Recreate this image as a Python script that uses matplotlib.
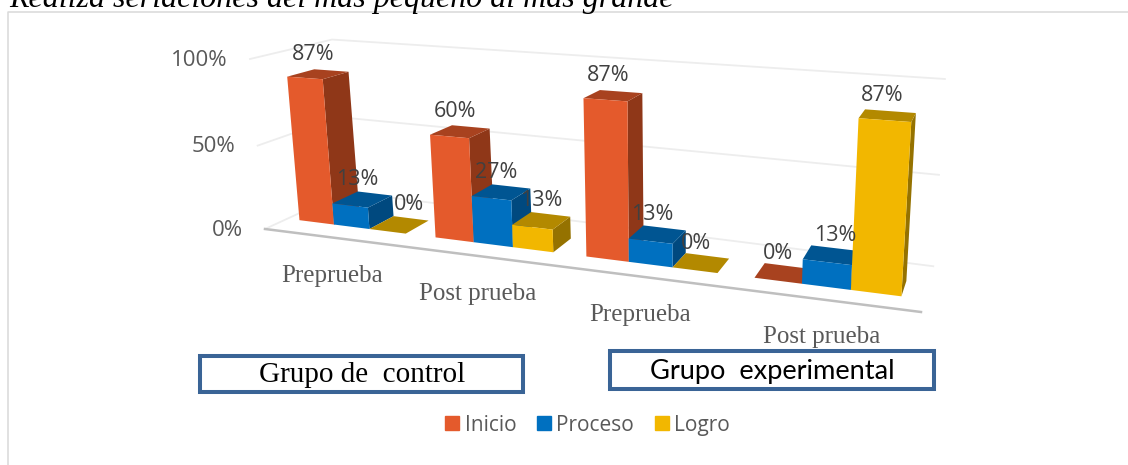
import numpy as np
import matplotlib
matplotlib.use("Agg")
import matplotlib.pyplot as plt
from matplotlib.patches import Patch, Rectangle

categories = ["Preprueba", "Post prueba", "Preprueba", "Post prueba"]
inicio = [87, 60, 87, 0]
proceso = [13, 27, 13, 13]
logro = [0, 13, 0, 87]
series_names = ["Inicio", "Proceso", "Logro"]
y_ticks = [0, 50, 100]

# front, side, top colour of each series
front_colors = ["#E45A2C", "#0070C0", "#F2B700"]
side_colors = ["#8F3718", "#00497F", "#957200"]
top_colors = ["#A8421F", "#005592", "#B38900"]

# label nudges where Excel had moved the label sideways
label_nudge = [[0, 0, 0, 0], [0, 0, 0, 9], [15, 5, 0, 0]]

W, H = 1128, 465
SERIF = "Liberation Serif"
SANS = "Open Sans"

# camera: corners of the front plane in pixels and the depth vanishing point
corners = [(265, 229), (921, 312), (250, 59), (934, 103)]
vanish = np.array([1039.0, -128.0])
BAR_FRONT, BAR_BACK, WALL = 0.029, 0.064, 0.104
GAP = 0.8
U_SHIFT = -0.003


def plane_matrix(pts):
    """homography from the unit square (u, v) to the pixel corners"""
    src = [(0, 0), (1, 0), (0, 1), (1, 1)]
    a, b = [], []
    for (u, v), (x, y) in zip(src, pts):
        a.append([u, v, 1, 0, 0, 0, -u * x, -v * x])
        a.append([0, 0, 0, u, v, 1, -u * y, -v * y])
        b += [x, y]
    return np.append(np.linalg.solve(np.array(a, float), np.array(b, float)), 1).reshape(3, 3)


M = plane_matrix(corners)


def project(u, v, d=0.0):
    p = M @ np.array([u, v, 1.0])
    p = p[:2] / p[2]
    return p + d * (vanish - p)


fig = plt.figure(figsize=(W / 100, H / 100), dpi=100)
ax = fig.add_axes([0, 0, 1, 1])
ax.set_xlim(0, W)
ax.set_ylim(H, 0)
ax.axis("off")

# outer frame of the chart
ax.plot([7.5, 7.5, W], [H, 12.5, 12.5], color="#D9D9D9", lw=1.1, zorder=1)

# the reference cuts this line at the top edge too
ax.text(9, 7, "Realiza seriaciones del más pequeño al más grande", family=SERIF,
        style="italic", fontsize=23, color="black", va="baseline", ha="left")

# gridlines on side wall and back wall
for t in y_ticks:
    v = t / 100
    a = project(0, v)
    b = project(0, v, WALL)
    c = project(1, v, WALL)
    ax.plot([a[0], b[0], c[0]], [a[1], b[1], c[1]], color="#EDEDED", lw=1.3, zorder=2)
    ax.text(a[0] - 22, a[1] + 1, f"{t}%", family=SANS, fontsize=16, color="#595959",
            ha="right", va="center")

p0, p1 = project(0, 0), project(1, 0)
ax.plot([p0[0], p1[0]], [p0[1], p1[1]], color="#BFBFBF", lw=1.8, zorder=3)

bar_w = 0.25 / (3 + GAP)
values = [inicio, proceso, logro]
zo = 4
for k in range(len(categories)):
    for s in range(3):
        v = values[s][k] / 100
        u0 = k * 0.25 + bar_w * GAP / 2 + s * bar_w + U_SHIFT
        u1 = u0 + bar_w
        fl, fr = project(u0, 0, BAR_FRONT), project(u1, 0, BAR_FRONT)
        tl, tr = project(u0, v, BAR_FRONT), project(u1, v, BAR_FRONT)
        bl, br = project(u0, v, BAR_BACK), project(u1, v, BAR_BACK)
        br0 = project(u1, 0, BAR_BACK)
        if v > 0:
            ax.fill(*zip(fr, tr, br, br0), color=side_colors[s], lw=0, zorder=zo)
            ax.fill(*zip(fl, fr, tr, tl), color=front_colors[s], lw=0, zorder=zo + 0.2)
        ax.fill(*zip(tl, tr, br, bl), color=top_colors[s], lw=0, zorder=zo + 0.1)
        zo += 1

        mid = project((u0 + u1) / 2, v, (BAR_FRONT + BAR_BACK) / 2)
        ax.text(mid[0] - 5 + label_nudge[s][k], mid[1] - 20, f"{values[s][k]}%", family=SANS,
                fontsize=15.5, color="#404040", ha="center", va="center", zorder=50)

    c = project(k * 0.25 + 0.125, 0)
    ax.text(c[0] - 1, c[1] + 38, categories[k], family=SERIF, fontsize=18, color="#595959",
            ha="center", va="center")

# group boxes
ax.add_patch(Rectangle((200, 356), 323, 36, fc="white", ec="#3A6496", lw=2.9, zorder=3))
ax.text(362, 375, "Grupo de  control", family=SERIF, fontsize=21, color="black",
        ha="center", va="center", zorder=4)
ax.add_patch(Rectangle((610, 351), 324, 38, fc="white", ec="#3A6496", lw=2.9, zorder=3))
ax.text(772, 371, "Grupo  experimental", family="Lato", fontsize=19.6, color="black",
        ha="center", va="center", zorder=4)

handles = [Patch(color=c, label=n) for c, n in zip(front_colors, series_names)]
ax.legend(handles=handles, loc="center", bbox_to_anchor=(587.5, 425),
          bbox_transform=ax.transData, ncol=3, frameon=False,
          prop={"family": SANS, "size": 15}, labelcolor="#595959",
          handlelength=0.67, handleheight=0.67, handletextpad=0.25, columnspacing=1.0)

fig.savefig("out.png", dpi=100)
